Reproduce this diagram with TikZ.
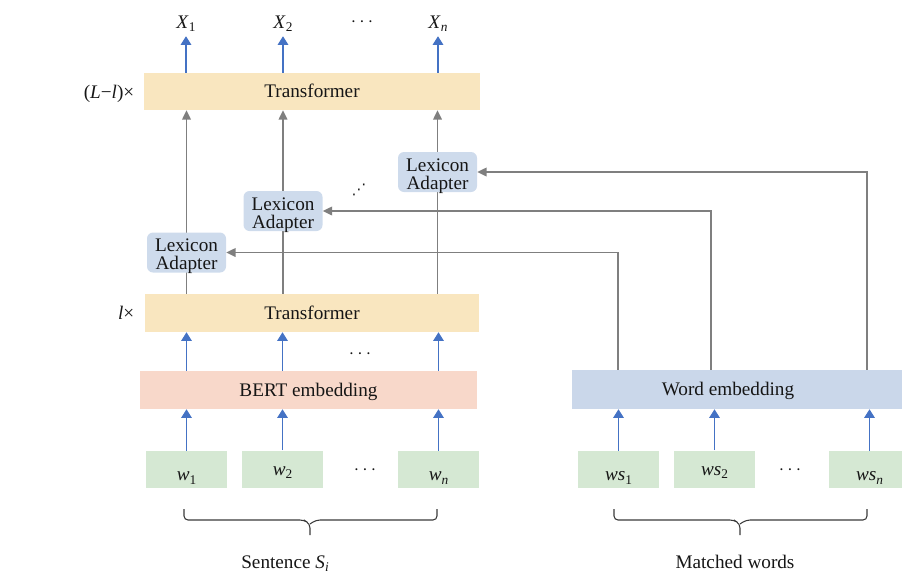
\documentclass[tikz,border=0pt]{standalone}
\usepackage{fontspec}
\setmainfont{Liberation Serif}
\newfontfamily\symbolfont{DejaVu Sans}
\usetikzlibrary{arrows.meta}

\definecolor{trfill}{HTML}{F9E6BF}
\definecolor{bertfill}{HTML}{F8D8CA}
\definecolor{adfill}{HTML}{CEDBEC}
\definecolor{wefill}{HTML}{CAD7EA}
\definecolor{tokfill}{HTML}{D5E8D3}
\definecolor{bluearr}{HTML}{4472C4}
\definecolor{grayarr}{HTML}{7F7F7F}
\definecolor{bracecol}{HTML}{3A3A3A}
\definecolor{ink}{HTML}{161616}

% lowered, smaller index after a symbol
\newcommand\lowidx[1]{\raisebox{-0.45ex}{\fontsize{10}{10}\selectfont #1}}

\begin{document}
\begin{tikzpicture}[x=0.75pt,y=-0.75pt,
  font=\fontsize{14.4}{13.5}\selectfont, text=ink,
  bar/.style={fill=#1, draw=none, inner sep=0pt, text height=9.5pt, text depth=0pt, minimum height=28.5pt},
  adapter/.style={fill=adfill, draw=none, rounded corners=4.5pt, align=center,
    minimum width=59.25pt, minimum height=30pt, inner sep=0pt, text height=26pt, text depth=0pt},
  token/.style={fill=tokfill, draw=none, inner sep=0pt, minimum width=60.75pt,
    minimum height=27.75pt, text depth=0pt, text height=#1},
  token/.default=17pt,
  lbl/.style={inner sep=3pt},
  bluearrow/.style={draw=bluearr, line width=0.8pt, -{Triangle[width=8pt,length=6.5pt]}},
  grayarrow/.style={draw=grayarr, line width=1.1pt, -{Triangle[width=6.5pt,length=7pt]}},
  bracestroke/.style={draw=bracecol, line width=0.8pt, rounded corners=3pt}]

\useasboundingbox (0,0) rectangle (902,575);
\clip (0,0) rectangle (902,575);

% ---- stacks of layers ----
\node[bar=trfill, minimum width=252pt, minimum height=27.75pt] (t2) at (312,91.5) {Transformer};
\node[bar=trfill, minimum width=250.5pt] (t1) at (312,313) {Transformer};
\node[bar=bertfill, minimum width=252.75pt] (bert) at (308.5,390) {BERT embedding};
\node[bar=wefill, minimum width=255pt, minimum height=29.25pt] (we) at (742,389.5) {};
\node (wetext) at (728,389.5) [inner sep=0pt, text height=9.5pt, text depth=0pt] {Word embedding};

\node[anchor=base east] (ltimes) at (139,98) {(\textit{L}−\textit{l})×};
\node[anchor=base east] (lone) at (139,319) {\textit{l}×};

% ---- outputs ----
\node[lbl, anchor=base] (x1) at (186,28) {\textit{X}\lowidx{1}};
\node[lbl, anchor=base] (x2) at (283,28) {\textit{X}\lowidx{2}};
\node[lbl] (xd) at (362,22) {$\cdots$};
\node[lbl, anchor=base] (xn) at (438,28) {\textit{X}\lowidx{\textit{n}}};

% ---- sentence tokens ----
\node[token] (w1) at (186.5,469.5) {\textit{w}\lowidx{1}};
\node[token=9pt] (w2) at (282.5,469) {\textit{w}\lowidx{2}};
\node (wd) at (365,470) {$\cdots$};
\node[token] (wn) at (438.5,469.5) {\textit{w}\lowidx{\textit{n}}};

% ---- matched words ----
\node[token] (ws1) at (618.5,469.5) {\textit{ws}\lowidx{1}};
\node[token=9pt] (ws2) at (714.5,469) {\textit{ws}\lowidx{2}};
\node (wsd) at (790,470) {$\cdots$};
\node[token] (wsn) at (869.5,469.5) {\textit{ws}\lowidx{\textit{n}}};

% ---- inputs into the embeddings ----
\foreach \t in {w1,w2,wn} \draw[bluearrow] (\t.north) -- (bert.south -| \t);
\foreach \t in {ws1,ws2,wsn} \draw[bluearrow] (\t.north) -- (we.south -| \t);

% ---- embedding to first transformer block ----
\foreach \t in {w1,w2,wn} \draw[bluearrow] (bert.north -| \t) -- (t1.south -| \t);
\node (td) at (360,354) {$\cdots$};

% ---- final outputs ----
\draw[bluearrow] (t2.north -| x1) -- (x1.south);
\draw[bluearrow] (t2.north -| x2) -- (x2.south);
\draw[bluearrow] (t2.north -| xn) -- (xn.south);

% ---- lexicon adapter positions ----
\coordinate (a1) at (186.5,252.5);
\coordinate (a2) at (283,211);
\coordinate (a3) at (437.5,172);

% vertical paths through the adapters
\draw[grayarrow] (t1.north -| a1) -- (t2.south -| a1);
\draw[grayarrow] (t1.north -| a2) -- (t2.south -| a2);
\draw[grayarrow] (t1.north -| a3) -- (t2.south -| a3);

\node[adapter] (la1) at (a1) {Lexicon\\Adapter};
\node[adapter] (la2) at (a2) {Lexicon\\Adapter};
\node[adapter] (la3) at (a3) {Lexicon\\Adapter};
\node[inner sep=0pt, font=\symbolfont\fontsize{11}{11}\selectfont, text=ink] (ad) at (359,190) {⋰};

% word features routed into the adapters
\coordinate (r1) at (618,0);
\coordinate (r2) at (711,0);
\coordinate (r3) at (867,0);
\draw[grayarrow] (we.north -| r1) |- (la1.east);
\draw[grayarrow] (we.north -| r2) |- (la2.east);
\draw[grayarrow] (we.north -| r3) |- (la3.east);

% ---- braces and captions ----
\draw[bracestroke] (184,509) -- (184,520) -- (304,520) -- (310,524) -- (310,535);
\draw[bracestroke] (437,509) -- (437,520) -- (316,520) -- (310,524);
\draw[bracestroke] (614,509) -- (614,520) -- (734,520) -- (740,524) -- (740,535);
\draw[bracestroke] (867,509) -- (867,520) -- (746,520) -- (740,524);

\node[anchor=base] (sent) at (285,568) {Sentence \textit{S}\lowidx{\textit{i}}};
\node[anchor=base] (match) at (735,568) {Matched words};
\end{tikzpicture}
\end{document}
